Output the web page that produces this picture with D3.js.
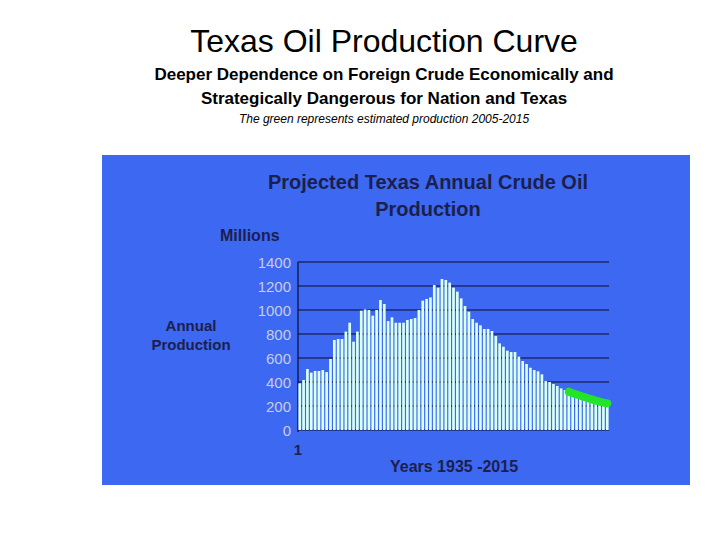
<!DOCTYPE html>
<html><head><meta charset="utf-8">
<script src="https://cdn.jsdelivr.net/npm/d3@7"></script>
<style>body{margin:0;background:#fff;font-family:"Liberation Sans",Arial,sans-serif}</style>
</head><body><svg id="c" width="720" height="540"></svg>
<script>
// annual production, millions of barrels, 1935-2004
var actual = [389,417,508,478,492,492,500,483,592,750,758,758,820,894,736,820,994,1005,1000,953,
  1000,1083,1050,908,939,894,894,894,917,925,933,1000,1078,1092,1105,1208,1186,1258,1250,1228,
  1186,1153,1097,1033,986,925,894,872,842,842,825,783,722,694,661,650,650,611,575,550,
  519,500,489,464,408,400,383,367,347,333];
// estimated 2005-2015
var estimate = [319,306,296,285,275,265,255,245,236,228,222];
var yTicks = [0,200,400,600,800,1000,1200,1400];

var years = d3.range(1935, 2016);
var values = actual.concat(estimate);

var svg = d3.select("#c");

svg.append("text").attr("x", 384).attr("y", 52).attr("text-anchor", "middle")
  .style("font-size", "32px").text("Texas Oil Production Curve");
svg.append("text").attr("x", 384).attr("y", 80).attr("text-anchor", "middle")
  .style("font-size", "17px").style("font-weight", "bold")
  .text("Deeper Dependence on Foreign Crude Economically and");
svg.append("text").attr("x", 384).attr("y", 104).attr("text-anchor", "middle")
  .style("font-size", "17px").style("font-weight", "bold")
  .text("Strategically Dangerous for Nation and Texas");
svg.append("text").attr("x", 384).attr("y", 123).attr("text-anchor", "middle")
  .style("font-size", "12px").style("font-style", "italic")
  .text("The green represents estimated production 2005-2015");

svg.append("rect").attr("x", 102).attr("y", 155).attr("width", 588).attr("height", 330)
  .attr("fill", "#3c68f2");

var navy = "#1c1f4e";
svg.append("text").attr("x", 428).attr("y", 189).attr("text-anchor", "middle")
  .style("font-size", "20px").style("font-weight", "bold").attr("fill", navy)
  .text("Projected Texas Annual Crude Oil");
svg.append("text").attr("x", 428).attr("y", 216).attr("text-anchor", "middle")
  .style("font-size", "20px").style("font-weight", "bold").attr("fill", navy)
  .text("Production");
svg.append("text").attr("x", 220).attr("y", 241)
  .style("font-size", "16px").style("font-weight", "bold").attr("fill", navy).text("Millions");
svg.append("text").attr("x", 191).attr("y", 331).attr("text-anchor", "middle")
  .style("font-size", "15px").style("font-weight", "bold").attr("fill", navy).text("Annual");
svg.append("text").attr("x", 191).attr("y", 350).attr("text-anchor", "middle")
  .style("font-size", "15px").style("font-weight", "bold").attr("fill", navy).text("Production");
svg.append("text").attr("x", 454).attr("y", 472).attr("text-anchor", "middle")
  .style("font-size", "16px").style("font-weight", "bold").attr("fill", navy).text("Years 1935 -2015");

var x = d3.scaleBand().domain(years).range([298, 609]).paddingInner(0.3).paddingOuter(0.1);
var y = d3.scaleLinear().domain([0, 1400]).range([430, 262]);

var g = svg.append("g");
g.selectAll("line.grid").data(yTicks).enter().append("line")
  .attr("x1", 298).attr("x2", 609).attr("y1", y).attr("y2", y)
  .attr("stroke", "#0a0a30").attr("stroke-width", 1.2);
g.selectAll("text.tick").data(yTicks).enter().append("text")
  .attr("x", 291).attr("y", function(d) { return y(d) + 6; }).attr("text-anchor", "end")
  .style("font-size", "15px").attr("fill", "#c9cde0").text(function(d) { return d; });
g.append("line").attr("x1", 298).attr("x2", 298).attr("y1", 262).attr("y2", 432)
  .attr("stroke", "#0a0a30").attr("stroke-width", 1.2);

g.selectAll("rect.bar").data(values).enter().append("rect")
  .attr("x", function(d, i) { return x(years[i]); })
  .attr("y", function(d) { return y(d); })
  .attr("width", x.bandwidth())
  .attr("height", function(d) { return y(0) - y(d); })
  .attr("fill", "#d9fff6");

var est = years.slice(actual.length);
g.append("path").datum(estimate)
  .attr("d", d3.line().x(function(d, i) { return x(est[i]) + x.bandwidth() / 2; }).y(function(d) { return y(d); }))
  .attr("fill", "none").attr("stroke", "#22e52a").attr("stroke-width", 8).attr("stroke-linecap", "round");

svg.append("text").attr("x", 298).attr("y", 455).attr("text-anchor", "middle")
  .style("font-size", "15px").style("font-weight", "bold").attr("fill", navy).text("1");
</script></body></html>
